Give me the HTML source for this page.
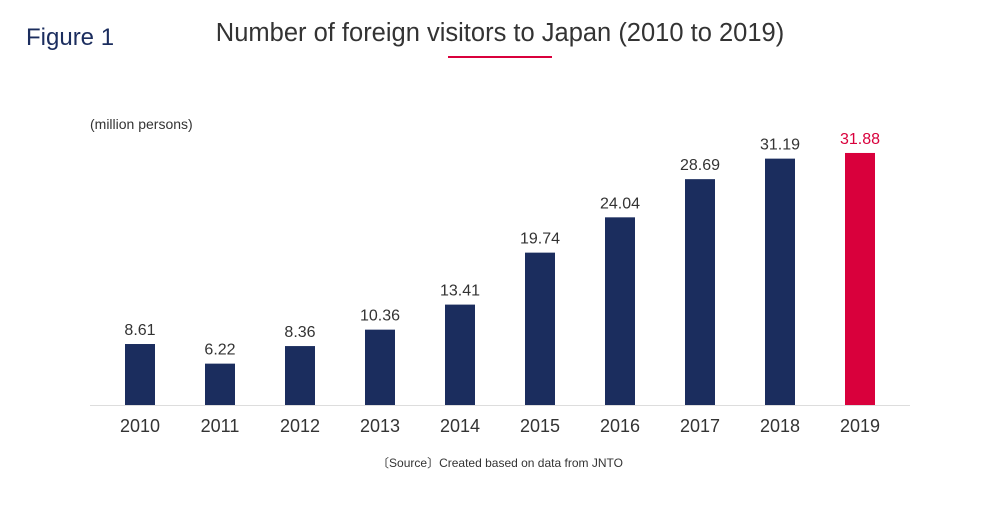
<!DOCTYPE html>
<html><head><meta charset="utf-8"><style>
body{margin:0;background:#fff;}
svg text{font-family:"Liberation Sans","Noto Sans CJK JP",sans-serif;}
</style></head><body>
<svg width="1000" height="500" viewBox="0 0 1000 500">
<text x="26" y="45" font-size="24" fill="#1b2d5e">Figure 1</text>
<text x="500" y="41" font-size="25.5" fill="#333" text-anchor="middle">Number of foreign visitors to Japan (2010 to 2019)</text>
<rect x="448" y="56" width="104" height="2" fill="#d9003c"/>
<text x="90" y="129" font-size="14" fill="#333">(million persons)</text>
<line x1="90" y1="405.5" x2="910" y2="405.5" stroke="#ddd" stroke-width="1"/>
<g id="bars"></g>
<text x="500" y="467" font-size="12" fill="#333" text-anchor="middle">〔Source〕Created based on data from JNTO</text>
</svg>
<script>
const years=["2010","2011","2012","2013","2014","2015","2016","2017","2018","2019"];
const visitors=[8.61,6.22,8.36,10.36,13.41,19.74,24.04,28.69,31.19,31.88];
const labels=["8.61","6.22","8.36","10.36","13.41","19.74","24.04","28.69","31.19","31.88"];
const zeroY=414.7, scale=8.21, base=405;
const x=i=>140+i*80;
const y=v=>zeroY-v*scale;
const g=document.getElementById('bars');
const ns='http://www.w3.org/2000/svg';
years.forEach((yr,i)=>{
  const last=i===years.length-1;
  const r=document.createElementNS(ns,'rect');
  r.setAttribute('x',x(i)-15);r.setAttribute('y',y(visitors[i]));
  r.setAttribute('width',30);r.setAttribute('height',Math.max(0,base-y(visitors[i])));
  r.setAttribute('fill',last?'#d9003c':'#1b2d5e');
  
  
  g.appendChild(r);
  const t=document.createElementNS(ns,'text');
  t.setAttribute('x',x(i));t.setAttribute('y',y(visitors[i])-9);
  t.setAttribute('text-anchor','middle');t.setAttribute('font-size','16');
  t.setAttribute('fill',last?'#d9003c':'#333');
  t.textContent=labels[i];
  
  
  g.appendChild(t);
  const a=document.createElementNS(ns,'text');
  a.setAttribute('x',x(i));a.setAttribute('y',432);
  a.setAttribute('text-anchor','middle');a.setAttribute('font-size','18');
  a.setAttribute('fill','#333');
  a.textContent=yr;
  
  
  g.appendChild(a);
});
</script>
</body></html>
